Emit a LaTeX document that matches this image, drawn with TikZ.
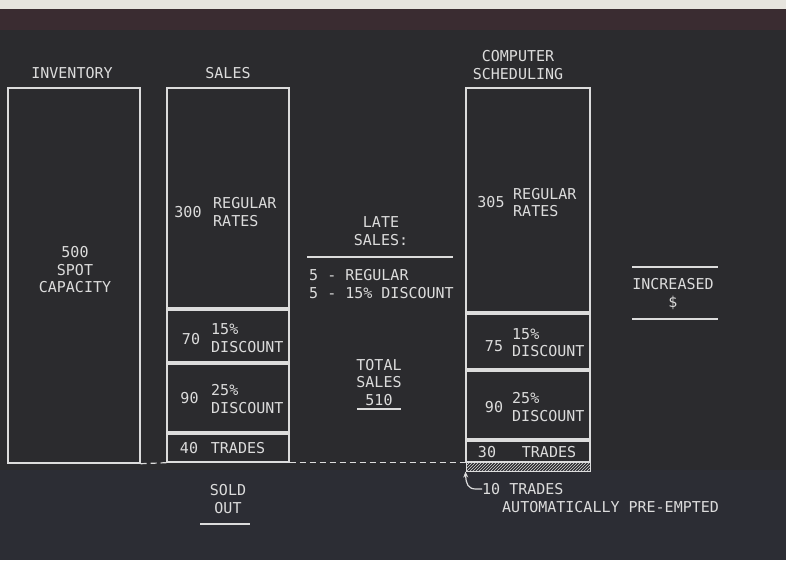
\documentclass[tikz,border=0pt]{standalone}
\usepackage{fontspec}
\setmainfont{DejaVu Sans Mono}
\usetikzlibrary{patterns,arrows.meta}
\definecolor{bg}{HTML}{2B2B2E}
\definecolor{bgb}{HTML}{2C2D34}
\definecolor{ink}{HTML}{DCDCDC}
\definecolor{topstrip}{HTML}{E6E4DE}
\definecolor{band}{HTML}{3A2C31}
\tikzset{
  box/.style={draw=ink, line width=1.4pt, inner sep=0pt},
  txt/.style={text=ink, inner sep=0pt, font=\fontsize{15}{17.5}\selectfont, align=center},
  ltxt/.style={txt, anchor=west, align=left},
  rule/.style={draw=ink, line width=1.2pt},
}
\begin{document}
\begin{tikzpicture}[x=1pt,y=-1pt]
\useasboundingbox (0,0) rectangle (786,560);
\fill[bg] (0,0) rectangle (786,560);
\fill[bgb] (0,470) rectangle (786,560);
\fill[topstrip] (0,0) rectangle (786,9);
\fill[band] (0,9) rectangle (786,30);
% column titles
\node[txt] (tinv) at (72,73) {INVENTORY};
\node[txt] (tsal) at (228,73) {SALES};
\node[txt] (tcomp) at (518,65) {COMPUTER\\SCHEDULING};
% inventory
\node[box, minimum width=132, minimum height=375] (inv) at (74,275.5) {};
\node[txt] (invtxt) at (75,270) {500\\SPOT\\CAPACITY};
% sales
\node[box, minimum width=122, minimum height=220] (sreg) at (228,198) {};
\node[box, minimum width=122, minimum height=52] (s15) at (228,336) {};
\node[box, minimum width=122, minimum height=68] (s25) at (228,398) {};
\node[box, minimum width=122, minimum height=28] (strades) at (228,448) {};
\node[txt] (n300) at (188,212) {300};
\node[ltxt] (l300) at (213,212) {REGULAR\\RATES};
\node[txt] (n70) at (191,339) {70};
\node[ltxt] (l70) at (211,338) {15\%\\DISCOUNT};
\node[txt] (n90) at (189.5,398) {90};
\node[ltxt] (l90) at (211,399) {25\%\\DISCOUNT};
\node[txt] (n40) at (189,448) {40};
\node[txt] (l40) at (238,448) {TRADES};
% sold out
\node[txt] (sold) at (228,499) {SOLD\\OUT};
\draw[rule] (200,524) -- (250,524);
% late sales
\node[txt] (late) at (381,231) {LATE\\SALES:};
\draw[rule] (307,257) -- (453,257);
\node[ltxt] (late1) at (309,284) {5 - REGULAR\\5 - 15\% DISCOUNT};
% total sales
\node[txt] (total) at (379,382.5) {TOTAL\\SALES\\510};
\draw[rule] (357,409) -- (401,409);
% computer scheduling
\node[box, minimum width=124, minimum height=224] (creg) at (528,200) {};
\node[box, minimum width=124, minimum height=55] (c15) at (528,341.5) {};
\node[box, minimum width=124, minimum height=68] (c25) at (528,405) {};
\node[box, minimum width=124, minimum height=21] (ctrades) at (528,451.5) {};
\node[draw=ink, line width=1pt, pattern=north east lines, pattern color=ink, minimum width=124, minimum height=9, inner sep=0pt] (chatch) at (528,466.5) {};
\node[txt] (n305) at (491,202) {305};
\node[ltxt] (l305) at (513,202.5) {REGULAR\\RATES};
\node[txt] (n75) at (494,346) {75};
\node[ltxt] (l75) at (512,342.5) {15\%\\DISCOUNT};
\node[txt] (n90c) at (494,407) {90};
\node[ltxt] (l90c) at (512,407) {25\%\\DISCOUNT};
\node[txt] (n30) at (487,452) {30};
\node[txt] (l30) at (549,452) {TRADES};
% dashed lines
\draw[draw=ink, line width=1.2pt, dash pattern=on 6pt off 4pt] (inv.south east) -- (strades.south west);
\draw[draw=ink, line width=1.2pt, dash pattern=on 6pt off 4pt] (strades.south east) -- (ctrades.south west);
% pre-empted
\node[ltxt] (ten) at (482,489) {10 TRADES};
\node[ltxt] (auto) at (502,507) {AUTOMATICALLY PRE-EMPTED};
\draw[draw=ink, line width=1.2pt, -{Stealth[length=6pt,width=5pt]}] (ten.west) -- ++(-6,0) .. controls (468,489) and (466,484) .. (chatch.south west);
% increased
\draw[rule] (632,267) -- (718,267);
\node[txt] (incr) at (673,294) {INCREASED\\\$};
\draw[rule] (632,319) -- (718,319);
\end{tikzpicture}
\end{document}
